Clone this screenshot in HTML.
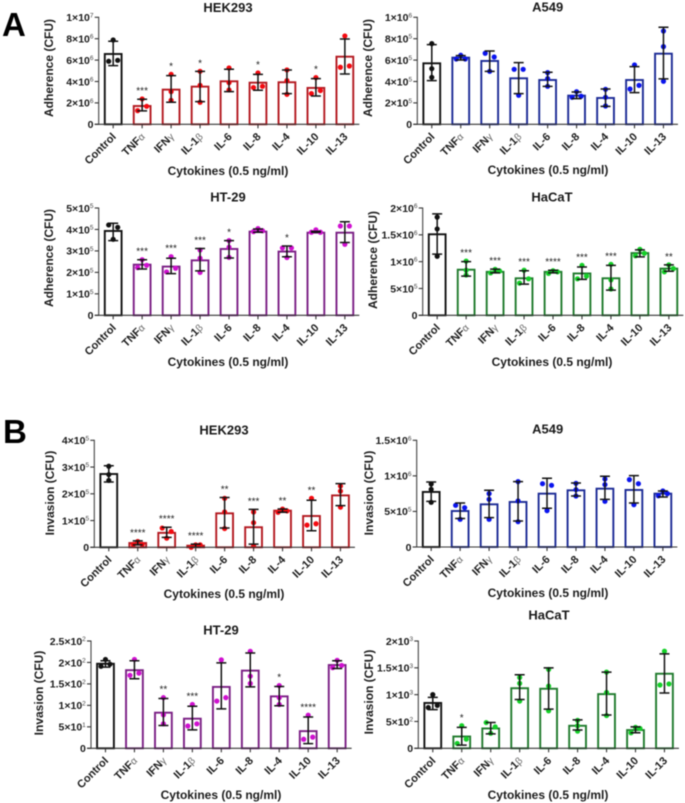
<!DOCTYPE html>
<html lang="en">
<head>
<meta charset="utf-8">
<title>Cytokine adherence and invasion bar charts</title>
<style>
  html, body { margin: 0; padding: 0; background: #fff; }
  #figure { display: block; filter: blur(0.4px); font-family: "Liberation Sans", "DejaVu Sans", sans-serif; }
</style>
</head>
<body>
<svg id="figure" width="685" height="803" viewBox="0 0 685 803" xmlns="http://www.w3.org/2000/svg">
  <text x="2" y="36" font-size="33" font-weight="700" fill="#000">A</text>
  <text x="3" y="443" font-size="33" font-weight="700" fill="#000">B</text>
</svg>
<script>
const categories = ["Control", "TNF|α", "IFN|γ", "IL-1|β", "IL-6", "IL-8", "IL-4", "IL-10", "IL-13"];

/* ---------- Section A: adherence ---------- */
const hekAdhTicks = [0, 2, 4, 6, 8, 10];
const hekAdhTickLabels = ["0", "2×10^6", "4×10^6", "6×10^6", "8×10^6", "1×10^7"];
const hekAdhMeans = [6.57, 1.71, 3.24, 3.52, 4.02, 3.89, 3.93, 3.40, 6.32];
const hekAdhErrHigh = [7.76, 2.34, 4.55, 4.95, 5.14, 4.67, 5.08, 4.27, 7.97];
const hekAdhErrLow = [5.48, 1.25, 2.06, 2.12, 3.05, 3.18, 2.87, 2.65, 4.70];
const hekAdhPoints = [[7.88, 5.89, 5.98], [2.37, 1.28, 1.68], [4.67, 3.05, 2.24], [4.95, 3.64, 2.06], [5.26, 3.89, 3.21], [4.80, 3.43, 3.55], [5.08, 4.08, 2.80], [4.36, 2.87, 3.15], [8.26, 5.33, 5.45]];
const hekAdhStars = ["", "***", "*", "*", "", "*", "", "*", ""];

const a549AdhTicks = [0, 2, 4, 6, 8, 10];
const a549AdhTickLabels = ["0", "2×10^5", "4×10^5", "6×10^5", "8×10^5", "1×10^6"];
const a549AdhMeans = [5.70, 6.23, 5.92, 4.30, 4.14, 2.68, 2.46, 4.14, 6.60];
const a549AdhErrHigh = [7.45, 6.42, 6.85, 5.76, 4.86, 3.02, 3.30, 5.39, 9.07];
const a549AdhErrLow = [4.08, 6.01, 4.95, 2.87, 3.55, 2.40, 1.68, 2.96, 4.24];
const a549AdhPoints = [[7.54, 5.20, 4.39], [6.45, 6.10, 6.10], [6.64, 6.29, 4.95], [5.14, 5.14, 2.71], [4.83, 4.27, 3.55], [3.05, 2.52, 2.62], [3.27, 2.52, 1.71], [5.55, 3.30, 3.64], [8.72, 7.26, 4.02]];
const a549AdhStars = ["", "", "", "", "", "", "", "", ""];

const ht29AdhTicks = [0, 1, 2, 3, 4, 5];
const ht29AdhTickLabels = ["0", "1×10^5", "2×10^5", "3×10^5", "4×10^5", "5×10^5"];
const ht29AdhMeans = [3.93, 2.36, 2.27, 2.56, 3.09, 3.90, 2.97, 3.85, 3.85];
const ht29AdhErrHigh = [4.29, 2.59, 2.66, 3.11, 3.48, 4.02, 3.23, 3.91, 4.36];
const ht29AdhErrLow = [3.48, 2.16, 1.94, 2.07, 2.67, 3.87, 2.73, 3.87, 3.39];
const ht29AdhPoints = [[4.21, 4.10, 3.54], [2.59, 2.22, 2.33], [2.73, 2.02, 2.19], [3.04, 2.66, 2.00], [3.48, 3.17, 2.70], [4.04, 3.90, 3.94], [3.14, 3.14, 2.69], [3.98, 3.87, 3.87], [4.16, 4.16, 3.31]];
const ht29AdhStars = ["", "***", "***", "***", "*", "", "*", "", ""];

const hacatAdhTicks = [0, 0.5, 1, 1.5, 2];
const hacatAdhTickLabels = ["0", "5×10^5", "1×10^6", "1.5×10^6", "2×10^6"];
const hacatAdhMeans = [1.51, 0.85, 0.81, 0.69, 0.81, 0.78, 0.69, 1.16, 0.87];
const hacatAdhErrHigh = [1.89, 1.00, 0.86, 0.83, 0.84, 0.90, 0.93, 1.22, 0.94];
const hacatAdhErrLow = [1.14, 0.73, 0.79, 0.58, 0.79, 0.67, 0.47, 1.09, 0.82];
const hacatAdhPoints = [[1.83, 1.61, 1.10], [1.01, 0.75, 0.84], [0.857, 0.79, 0.826], [0.84, 0.60, 0.68], [0.83, 0.78, 0.81], [0.93, 0.68, 0.73], [0.95, 0.66, 0.49], [1.23, 1.11, 1.155], [0.94, 0.81, 0.87]];
const hacatAdhStars = ["", "***", "***", "***", "****", "***", "***", "", "**"];

/* ---------- Section B: invasion ---------- */
const hekInvTicks = [0, 1, 2, 3, 4];
const hekInvTickLabels = ["0", "1×10^5", "2×10^5", "3×10^5", "4×10^5"];
const hekInvMeans = [2.74, 0.16, 0.54, 0.06, 1.27, 0.75, 1.37, 1.17, 1.94];
const hekInvErrHigh = [3.05, 0.24, 0.75, 0.12, 1.86, 1.42, 1.43, 1.76, 2.38];
const hekInvErrLow = [2.44, 0.09, 0.37, 0.00, 0.72, 0.12, 1.31, 0.62, 1.56];
const hekInvPoints = [[3.03, 2.72, 2.50], [0.22, 0.10, 0.11], [0.72, 0.59, 0.34], [0.09, 0.00, 0.09], [1.83, 1.32, 0.70], [1.32, 0.92, 0.05], [1.43, 1.31, 1.36], [1.83, 0.83, 0.88], [2.29, 2.10, 1.50]];
const hekInvStars = ["", "****", "****", "****", "**", "***", "**", "**", ""];

const a549InvTicks = [0, 5, 10, 15];
const a549InvTickLabels = ["0", "5×10^5", "1×10^6", "1.5×10^6"];
const a549InvMeans = [7.74, 5.06, 6.00, 6.33, 7.50, 7.97, 8.20, 8.02, 7.50];
const a549InvErrHigh = [9.14, 6.19, 7.97, 9.19, 9.67, 9.00, 9.94, 10.03, 7.88];
const a549InvErrLow = [6.42, 4.00, 4.13, 3.66, 5.44, 7.17, 6.70, 6.19, 7.03];
const a549InvPoints = [[8.86, 8.10, 6.28], [5.86, 5.53, 3.89], [7.50, 6.70, 3.89], [9.19, 6.47, 3.56], [8.90, 8.67, 5.11], [8.95, 8.06, 7.17], [9.56, 8.77, 6.42], [9.47, 8.90, 5.95], [7.88, 7.20, 7.50]];
const a549InvStars = ["", "", "", "", "", "", "", "", ""];

const ht29InvTicks = [0, 0.5, 1, 1.5, 2, 2.5];
const ht29InvTickLabels = ["0", "5×10^1", "1×10^2", "1.5×10^2", "2×10^2", "2.5×10^2"];
const ht29InvMeans = [1.97, 1.82, 0.83, 0.69, 1.43, 1.81, 1.21, 0.40, 1.94];
const ht29InvErrHigh = [2.04, 2.04, 1.16, 0.98, 1.99, 2.22, 1.44, 0.73, 2.04];
const ht29InvErrLow = [1.89, 1.62, 0.53, 0.43, 0.92, 1.43, 0.99, 0.11, 1.86];
const ht29InvPoints = [[2.07, 1.91, 1.96], [2.07, 1.70, 1.75], [1.18, 0.78, 0.57], [1.02, 0.52, 0.57], [2.06, 1.10, 1.18], [2.26, 1.68, 1.51], [1.46, 1.18, 1.02], [0.77, 0.21, 0.26], [2.05, 1.88, 1.93]];
const ht29InvStars = ["", "", "**", "***", "", "", "*", "****", ""];

const hacatInvTicks = [0, 0.5, 1, 1.5, 2];
const hacatInvTickLabels = ["0", "5×10^2", "1×10^3", "1.5×10^3", "2×10^3"];
const hacatInvMeans = [0.845, 0.22, 0.37, 1.12, 1.11, 0.42, 1.01, 0.34, 1.39];
const hacatInvErrHigh = [0.95, 0.39, 0.48, 1.37, 1.50, 0.53, 1.42, 0.40, 1.76];
const hacatInvErrLow = [0.72, 0.06, 0.27, 0.91, 0.73, 0.34, 0.62, 0.29, 1.03];
const hacatInvPoints = [[1.00, 0.76, 0.80], [0.42, 0.09, 0.17], [0.48, 0.40, 0.28], [1.32, 1.21, 0.88], [1.47, 1.16, 0.70], [0.52, 0.42, 0.32], [1.42, 1.04, 0.61], [0.39, 0.29, 0.37], [1.81, 1.18, 1.20]];
const hacatInvStars = ["", "*", "", "", "", "", "", "", ""];

const BAND = 28.96;
const panels = [
  { title: "HEK293", yLabel: "Adherence (CFU)", axisX: 98.7, top: 17.3, bottom: 124.3, yMax: 10, ticks: hekAdhTicks, tickLabels: hekAdhTickLabels, means: hekAdhMeans, hi: hekAdhErrHigh, lo: hekAdhErrLow, points: hekAdhPoints, stars: hekAdhStars, stroke: "#b3181f", dot: "#f40a10", titleX: 228, titleY: 7.5, yLabelX: 49, yLabelY: 68, xLabelX: 228, xLabelY: 171 },
  { title: "A549", yLabel: "Adherence (CFU)", axisX: 417.3, top: 17.3, bottom: 124.3, yMax: 10, ticks: a549AdhTicks, tickLabels: a549AdhTickLabels, means: a549AdhMeans, hi: a549AdhErrHigh, lo: a549AdhErrLow, points: a549AdhPoints, stars: a549AdhStars, stroke: "#1b2a95", dot: "#0a14ee", titleX: 547.7, titleY: 7, yLabelX: 368, yLabelY: 68, xLabelX: 548, xLabelY: 170 },
  { title: "HT-29", yLabel: "Adherence (CFU)", axisX: 98.7, top: 208, bottom: 315.3, yMax: 5, ticks: ht29AdhTicks, tickLabels: ht29AdhTickLabels, means: ht29AdhMeans, hi: ht29AdhErrHigh, lo: ht29AdhErrLow, points: ht29AdhPoints, stars: ht29AdhStars, stroke: "#7a1e84", dot: "#d010d0", titleX: 228, titleY: 197, yLabelX: 49, yLabelY: 258, xLabelX: 228, xLabelY: 362 },
  { title: "HaCaT", yLabel: "Adherence (CFU)", axisX: 422.7, top: 208, bottom: 315.3, yMax: 2, ticks: hacatAdhTicks, tickLabels: hacatAdhTickLabels, means: hacatAdhMeans, hi: hacatAdhErrHigh, lo: hacatAdhErrLow, points: hacatAdhPoints, stars: hacatAdhStars, stroke: "#1f7a2c", dot: "#14d028", titleX: 552, titleY: 197, yLabelX: 373, yLabelY: 260, xLabelX: 552, xLabelY: 362 },
  { title: "HEK293", yLabel: "Invasion (CFU)", axisX: 94.3, top: 440.3, bottom: 547.3, yMax: 4, ticks: hekInvTicks, tickLabels: hekInvTickLabels, means: hekInvMeans, hi: hekInvErrHigh, lo: hekInvErrLow, points: hekInvPoints, stars: hekInvStars, stroke: "#b3181f", dot: "#f40a10", titleX: 224, titleY: 430, yLabelX: 50, yLabelY: 493, xLabelX: 224, xLabelY: 594 },
  { title: "A549", yLabel: "Invasion (CFU)", axisX: 416.7, top: 440.3, bottom: 547, yMax: 15, ticks: a549InvTicks, tickLabels: a549InvTickLabels, means: a549InvMeans, hi: a549InvErrHigh, lo: a549InvErrLow, points: a549InvPoints, stars: a549InvStars, stroke: "#1b2a95", dot: "#0a14ee", titleX: 547.7, titleY: 429, yLabelX: 369, yLabelY: 493, xLabelX: 548, xLabelY: 593 },
  { title: "HT-29", yLabel: "Invasion (CFU)", axisX: 91, top: 641, bottom: 748.3, yMax: 2.5, ticks: ht29InvTicks, tickLabels: ht29InvTickLabels, means: ht29InvMeans, hi: ht29InvErrHigh, lo: ht29InvErrLow, points: ht29InvPoints, stars: ht29InvStars, stroke: "#7a1e84", dot: "#d010d0", titleX: 221, titleY: 630, yLabelX: 39, yLabelY: 693, xLabelX: 221, xLabelY: 795 },
  { title: "HaCaT", yLabel: "Invasion (CFU)", axisX: 418.3, top: 641, bottom: 748.3, yMax: 2, ticks: hacatInvTicks, tickLabels: hacatInvTickLabels, means: hacatInvMeans, hi: hacatInvErrHigh, lo: hacatInvErrLow, points: hacatInvPoints, stars: hacatInvStars, stroke: "#1f7a2c", dot: "#14d028", titleX: 549, titleY: 615, yLabelX: 369, yLabelY: 692, xLabelX: 548, xLabelY: 795 }
];

const NS = "http://www.w3.org/2000/svg";
const svg = document.getElementById("figure");

function mk(parent, tag, attrs, text) {
  const node = document.createElementNS(NS, tag);
  for (const k in attrs) node.setAttribute(k, attrs[k]);
  if (text !== undefined) node.textContent = text;
  parent.appendChild(node);
  return node;
}

/* Beeswarm: overlapping values fan out sideways, in the order they are listed. */
function swarmOffsets(vals, yScale) {
  const spread = 4.5, limit = 4.8;
  const idx = vals.map((v, i) => i).sort((a, b) => vals[b] - vals[a]);
  const out = vals.map(() => 0);
  let group = [idx[0]];
  const flush = () => {
    const g = group.slice().sort((a, b) => a - b);
    if (g.length === 2) { out[g[0]] = -spread; out[g[1]] = spread; }
    if (g.length >= 3) { out[g[0]] = 0; out[g[1]] = -spread; out[g[2]] = spread; }
  };
  for (let i = 1; i < idx.length; i++) {
    const gap = Math.abs(yScale(vals[idx[i]]) - yScale(vals[idx[i - 1]]));
    if (gap < limit) { group.push(idx[i]); } else { flush(); group = [idx[i]]; }
  }
  flush();
  return out;
}

panels.forEach(function (p) {
  const panelGroup = mk(svg, "g", {});
  
  
  panelGroup.setAttribute('aria-label', p.title + ' ' + p.yLabel);

  const yScale = v => p.bottom - (v / p.yMax) * (p.bottom - p.top);
  const xScale = i => p.axisX + (i + 0.5) * BAND;
  const ink = "#1c1c1c";

  const title = mk(panelGroup, "text", { x: p.titleX, y: p.titleY + 4.6, "text-anchor": "middle", "font-size": 13, "font-weight": 700, fill: "#1a1a1a" }, p.title);
  
  

  const yTitle = mk(panelGroup, "text", { x: 0, y: 0, transform: "translate(" + (p.yLabelX + 4.2) + "," + p.yLabelY + ") rotate(-90)", "text-anchor": "middle", "font-size": 12, "font-weight": 700, fill: ink }, p.yLabel);
  
  

  const xTitle = mk(panelGroup, "text", { x: p.xLabelX, y: p.xLabelY + 4.2, "text-anchor": "middle", "font-size": 12, "font-weight": 700, fill: ink }, "Cytokines (0.5 ng/ml)");
  
  

  /* bars sit underneath the axes */
  categories.forEach(function (c, i) {
    const cx = xScale(i);
    const color = i === 0 ? "#111" : p.stroke;
    const dotColor = i === 0 ? "#111" : p.dot;
    const yTop = yScale(p.means[i]);

    const bar = mk(panelGroup, "rect", { x: cx - 8.4, y: yTop, width: 16.8, height: p.bottom - yTop, fill: "#fff", stroke: color, "stroke-width": 1.9 });
    
    

    const offsets = swarmOffsets(p.points[i], yScale);
    p.points[i].forEach(function (v, j) {
      const dot = mk(panelGroup, "circle", { cx: cx + offsets[j], cy: yScale(v), r: 2.6, fill: dotColor });
      
      
    });

    const yHi = yScale(p.hi[i]);
    const yLo = yScale(p.lo[i]);
    const errPath = "M" + (cx - 5) + " " + yHi + "H" + (cx + 5) + "M" + cx + " " + yHi + "V" + yLo + "M" + (cx - 5) + " " + yLo + "H" + (cx + 5);
    const err = mk(panelGroup, "path", { d: errPath, fill: "none", stroke: "#111", "stroke-width": 1.5 });
    
    

    if (p.stars[i]) {
      const topMost = Math.min(yHi, yScale(Math.max.apply(null, p.points[i])));
      const star = mk(panelGroup, "text", { x: cx, y: topMost - 10.5 + 5.5, "text-anchor": "middle", "font-size": 10, fill: "#222" }, p.stars[i]);
      
      
    }

    const parts = c.split("|");
    const label = mk(panelGroup, "text", { transform: "translate(" + (cx + 3.5) + "," + (p.bottom + 13) + ") rotate(-45)", "text-anchor": "end", "font-size": 11, "font-weight": 700, fill: ink }, parts[0]);
    
    
    if (parts[1]) {
      mk(label, "tspan", { "font-weight": 400, fill: "#666", "font-size": 10 }, parts[1]);
    }

    const xt = mk(panelGroup, "line", { x1: cx, x2: cx, y1: p.bottom, y2: p.bottom + 4, stroke: "#333", "stroke-width": 1.1 });
    
    
  });

  const yAxis = mk(panelGroup, "line", { x1: p.axisX, x2: p.axisX, y1: p.top - 0.5, y2: p.bottom + 0.5, stroke: "#444", "stroke-width": 1.1 });
  
  

  const xAxis = mk(panelGroup, "line", { x1: p.axisX - 4, x2: p.axisX + 9 * BAND, y1: p.bottom, y2: p.bottom, stroke: "#333", "stroke-width": 1.1 });
  
  

  p.ticks.forEach(function (t, i) {
    const ty = yScale(t);
    const tick = mk(panelGroup, "line", { x1: p.axisX - 4, x2: p.axisX, y1: ty, y2: ty, stroke: "#333", "stroke-width": 1.1 });
    
    

    const parts = p.tickLabels[i].split("^");
    const tl = mk(panelGroup, "text", { x: p.axisX - 5.2, y: ty + 3.8, "text-anchor": "end", "font-size": 10.5, "font-weight": 700, fill: ink }, parts[0]);
    
    
    if (parts[1]) {
      mk(tl, "tspan", { dy: -3.8, "font-size": 6.5, "font-weight": 400, fill: "#444" }, parts[1]);
    }
  });
});
</script>
</body>
</html>
